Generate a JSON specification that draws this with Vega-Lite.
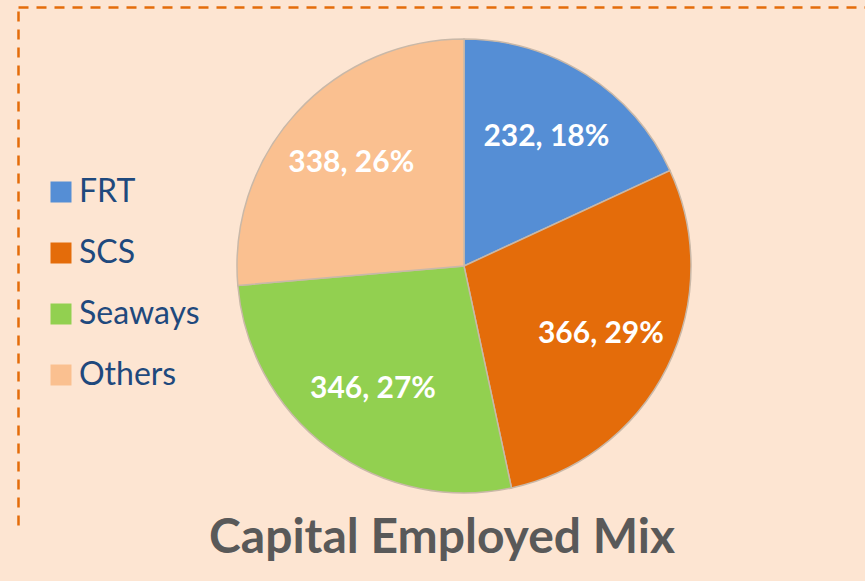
{
  "$schema": "https://vega.github.io/schema/vega-lite/v6.json",
  "autosize": {"type": "none"},
  "width": 892,
  "height": 518,
  "padding": {"left": 18, "top": 7, "right": -45, "bottom": 56},
  "background": "#FDE5D2",
  "data": {
    "values": [
      {"segment": "FRT", "value": 232, "label": "232, 18%", "rank": 1},
      {"segment": "SCS", "value": 366, "label": "366, 29%", "rank": 2},
      {"segment": "Seaways", "value": 346, "label": "346, 27%", "rank": 3},
      {"segment": "Others", "value": 338, "label": "338, 26%", "rank": 4}
    ]
  },
  "title": {
    "text": "Capital Employed Mix",
    "orient": "bottom",
    "anchor": "middle",
    "font": "Lato",
    "fontSize": 48,
    "fontWeight": "bold",
    "color": "#595959",
    "dx": -22,
    "offset": -10
  },
  "layer": [
    {
      "mark": {"type": "arc", "outerRadius": 227, "stroke": "#C9B8A8", "strokeWidth": 1.5},
      "encoding": {
        "theta": {"field": "value", "type": "quantitative", "stack": true},
        "order": {"field": "rank", "type": "quantitative"},
        "color": {
          "field": "segment",
          "type": "nominal",
          "scale": {
            "domain": ["FRT", "SCS", "Seaways", "Others"],
            "range": ["#558ED5", "#E46C0A", "#92D050", "#FAC090"]
          },
          "legend": {
            "orient": "none",
            "legendX": 27,
            "legendY": 169,
            "title": null,
            "padding": 0,
            "symbolType": "square",
            "symbolSize": 441,
            "symbolStrokeWidth": 0,
            "symbolOpacity": 1,
            "labelFont": "Lato",
            "labelFontSize": 32,
            "labelColor": "#1F497D",
            "labelOffset": 2,
            "rowPadding": 29
          }
        }
      }
    },
    {
      "mark": {"type": "text", "radius": 153, "font": "Lato", "fontSize": 30, "fontWeight": "bold", "color": "white"},
      "encoding": {
        "theta": {"field": "value", "type": "quantitative", "stack": true},
        "order": {"field": "rank", "type": "quantitative"},
        "text": {"field": "label", "type": "nominal"}
      }
    },
    {
      "mark": {"type": "point", "opacity": 0},
      "encoding": {
        "x": {
          "field": "value",
          "type": "quantitative",
          "axis": {"orient": "top", "domainColor": "#E46C0A", "domainDash": [10, 8], "domainWidth": 2.5, "ticks": false, "labels": false, "title": null, "grid": false}
        },
        "y": {
          "field": "value",
          "type": "quantitative",
          "axis": {"orient": "left", "domainColor": "#E46C0A", "domainDash": [10, 8], "domainWidth": 2.5, "ticks": false, "labels": false, "title": null, "grid": false}
        }
      }
    }
  ],
  "config": {"view": {"stroke": null}}
}
